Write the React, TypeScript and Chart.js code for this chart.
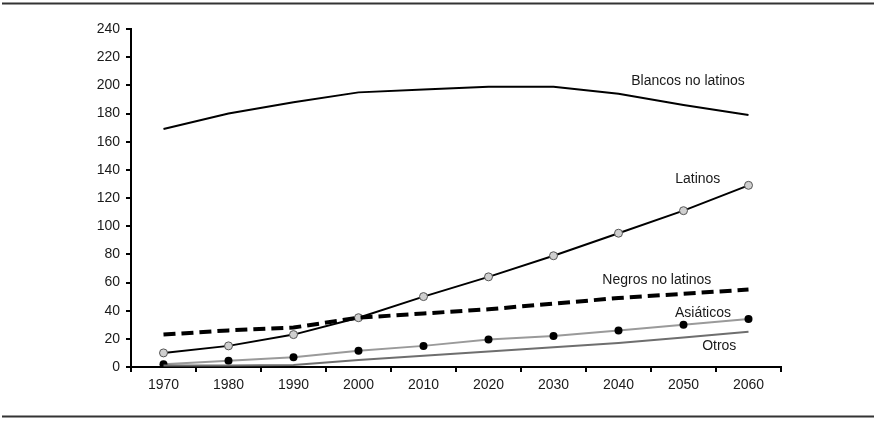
import React, { useEffect, useRef } from "react";
import { Chart, registerables } from "chart.js";

Chart.register(...registerables);

const years = ["1970", "1980", "1990", "2000", "2010", "2020", "2030", "2040", "2050", "2060"];
const blancos = [169, 180, 188, 195, 197, 199, 199, 194, 186, 179];
const latinos = [10, 15, 23, 35, 50, 64, 79, 95, 111, 129];
const negros = [23, 26, 28, 35, 38, 41, 45, 49, 52, 55];
const asiaticos = [2, 4.5, 7, 11.5, 15, 19.5, 22, 26, 30, 34];
const otros = [1, 1, 1.5, 5, 8, 11, 14, 17, 21, 25];
const yTicks = [0, 20, 40, 60, 80, 100, 120, 140, 160, 180, 200, 220, 240];

// text annotations: label, fractional category index, value
const notes: { text: string; idx: number; val: number }[] = [
  { text: "Blancos no latinos", idx: 8.07, val: 203 },
  { text: "Latinos", idx: 8.22, val: 133.5 },
  { text: "Negros no latinos", idx: 7.59, val: 62 },
  { text: "Asiáticos", idx: 8.3, val: 38.3 },
  { text: "Otros", idx: 8.55, val: 15 },
];

const FONT = "'Liberation Sans', Arial, sans-serif";

const decor = {
  id: "decor",
  afterDraw(chart: any) {
    const ctx = chart.ctx;
    const xs = chart.scales.x;
    const ys = chart.scales.y;
    ctx.save();
    ctx.strokeStyle = "#333";
    ctx.lineWidth = 2;
    ctx.beginPath();
    ctx.moveTo(2, 3.5);
    ctx.lineTo(874, 3.5);
    ctx.moveTo(2, 416.5);
    ctx.lineTo(874, 416.5);
    ctx.stroke();
    ctx.fillStyle = "#1a1a1a";
    ctx.font = `14px ${FONT}`;
    ctx.textAlign = "center";
    ctx.textBaseline = "middle";
    for (const n of notes) {
      ctx.fillText(n.text, xs.getPixelForValue(n.idx), ys.getPixelForValue(n.val));
    }
    ctx.restore();
  },
};

export default function App() {
  const ref = useRef<HTMLCanvasElement>(null);
  useEffect(() => {
    document.body.style.margin = "0";
    const chart = new Chart(ref.current!, {
      type: "line",
      data: {
        labels: years,
        datasets: [
          { data: otros, borderColor: "#6e6e6e", borderWidth: 2, pointRadius: 0, tension: 0 },
          {
            data: asiaticos, borderColor: "#9a9a9a", borderWidth: 2, pointRadius: 4,
            pointBackgroundColor: "#000", pointBorderColor: "#000", pointBorderWidth: 0, tension: 0,
          },
          { data: negros, borderColor: "#000", borderWidth: 4, borderDash: [12, 6], pointRadius: 0, tension: 0 },
          {
            data: latinos, borderColor: "#000", borderWidth: 2, pointRadius: 4,
            pointBackgroundColor: "#cfcfcf", pointBorderColor: "#555", pointBorderWidth: 1, tension: 0,
          },
          { data: blancos, borderColor: "#000", borderWidth: 2, pointRadius: 0, tension: 0 },
        ],
      },
      options: {
        responsive: false,
        animation: false,
        layout: { padding: { left: 0, right: 95, top: 29, bottom: 0 } },
        plugins: { legend: { display: false }, tooltip: { enabled: false } },
        scales: {
          x: {
            offset: true,
            grid: { display: true, drawOnChartArea: false, drawTicks: true, tickLength: 5, color: "#000", lineWidth: 2, offset: true },
            border: { display: true, color: "#000", width: 2 },
            ticks: { color: "#1a1a1a", font: { family: FONT, size: 14 }, padding: 5, maxRotation: 0, autoSkip: false },
            afterFit: (s: any) => { s.height = 54; },
          },
          y: {
            min: 0,
            max: 240,
            afterBuildTicks: (s: any) => { s.ticks = yTicks.map((v) => ({ value: v })); },
            grid: { display: true, drawOnChartArea: false, drawTicks: true, tickLength: 5, color: "#000", lineWidth: 2 },
            border: { display: true, color: "#000", width: 2 },
            ticks: { color: "#1a1a1a", font: { family: FONT, size: 14 }, padding: 6 },
            afterFit: (s: any) => { s.width = 131; },
          },
        },
      },
      plugins: [decor],
    });
    return () => chart.destroy();
  }, []);
  return (
    <div style={{ position: "absolute", left: 0, top: 0, width: 876, height: 421, background: "#fff" }}>
      <canvas ref={ref} width={876} height={421} style={{ width: 876, height: 421 }} />
    </div>
  );
}
